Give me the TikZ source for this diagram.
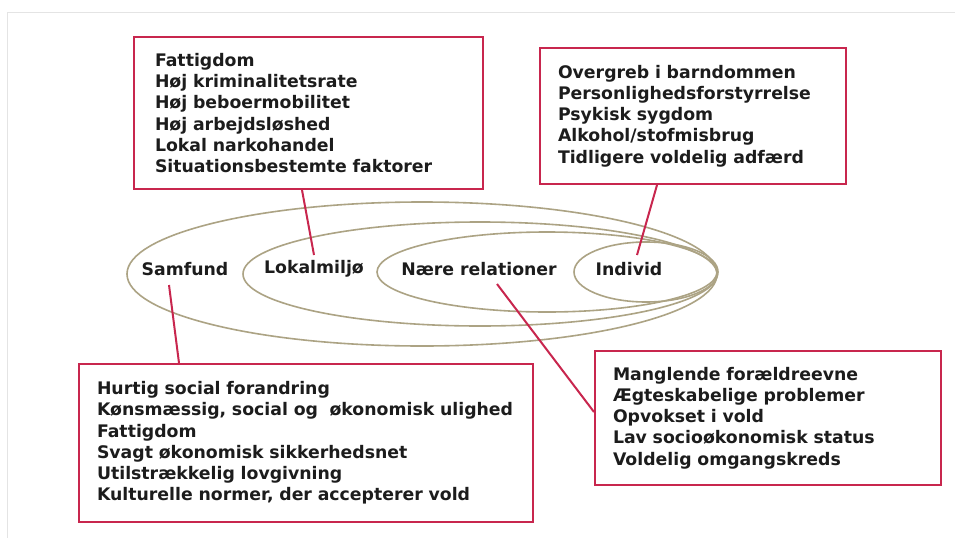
\documentclass[tikz,border=0pt]{standalone}
\usepackage{fontspec}
\setmainfont{DejaVu Sans}
\definecolor{boxred}{RGB}{200,38,78}
\definecolor{ringtan}{RGB}{172,163,132}
\definecolor{txt}{RGB}{28,28,28}
\definecolor{frame}{RGB}{228,228,228}
\tikzset{
  txtfont/.style={font=\fontsize{17.3}{21.2}\selectfont\bfseries, text=txt},
  factorbox/.style={draw=boxred, line width=2pt, fill=white, anchor=north west,
    txtfont, align=left, inner xsep=18pt, inner ysep=0pt},
  ring/.style={draw=ringtan, line width=1.6pt},
  ringlabel/.style={txtfont, inner sep=1pt},
  conn/.style={draw=boxred, line width=2pt},
}
\begin{document}
\begin{tikzpicture}[x=1pt,y=-1pt]
\useasboundingbox (0,0) rectangle (955,538);
\fill[white] (0,0) rectangle (955,538);
\draw[frame, line width=1pt] (7,538) -- (7,12) -- (955,12);

% rings
\draw[ring] (422,274) ellipse [x radius=295pt, y radius=72pt];
\draw[ring] (480,274) ellipse [x radius=237pt, y radius=52pt];
\draw[ring] (547,272) ellipse [x radius=170pt, y radius=40pt];
\draw[ring] (646,272) ellipse [x radius=72pt, y radius=30pt];

\node[ringlabel] (samfund) at (185,269) {Samfund};
\node[ringlabel] (lokal) at (314,269) {Lokalmiljø};
\node[ringlabel] (naere) at (479,269) {Nære relationer};
\node[ringlabel] (individ) at (629,269) {Individ};

% boxes
\node[factorbox, inner xsep=0pt, text width=349pt, minimum height=152pt] (boxlokal) at (133,36)
  {\hspace*{21pt}Fattigdom\\\hspace*{21pt}Høj kriminalitetsrate\\\hspace*{21pt}Høj beboermobilitet\\\hspace*{21pt}Høj arbejdsløshed\\\hspace*{21pt}Lokal narkohandel\\\hspace*{21pt}Situationsbestemte faktorer};
\node[factorbox, text width=270pt, minimum height=136pt] (boxindivid) at (539,47)
  {Overgreb i barndommen\\Personlighedsforstyrrelse\\Psykisk sygdom\\Alkohol/stofmisbrug\\Tidligere voldelig adfærd};
\node[factorbox, text width=418pt, minimum height=158pt] (boxsamfund) at (78,363)
  {Hurtig social forandring\\\mbox{Kønsmæssig, social og \ økonomisk ulighed}\\Fattigdom\\Svagt økonomisk sikkerhedsnet\\Utilstrækkelig lovgivning\\Kulturelle normer, der accepterer vold};
\node[factorbox, text width=310pt, minimum height=134pt] (boxnaere) at (594,350)
  {Manglende forældreevne\\Ægteskabelige problemer\\Opvokset i vold\\Lav socioøkonomisk status\\Voldelig omgangskreds};

% connectors
\coordinate (lk1) at (302,188);
\coordinate (lk2) at (314,255);
\coordinate (in1) at (657,183);
\coordinate (in2) at (637,255);
\coordinate (sa1) at (169,285);
\coordinate (sa2) at (179,363);
\coordinate (na1) at (497,284);
\coordinate (na2) at (594,412);
\draw[conn] (lk1 |- boxlokal.south) -- (lk2);
\draw[conn] (in1 |- boxindivid.south) -- (in2);
\draw[conn] (sa1) -- (sa2 |- boxsamfund.north);
\draw[conn] (na1) -- (na2 -| boxnaere.west);
\end{tikzpicture}
\end{document}
